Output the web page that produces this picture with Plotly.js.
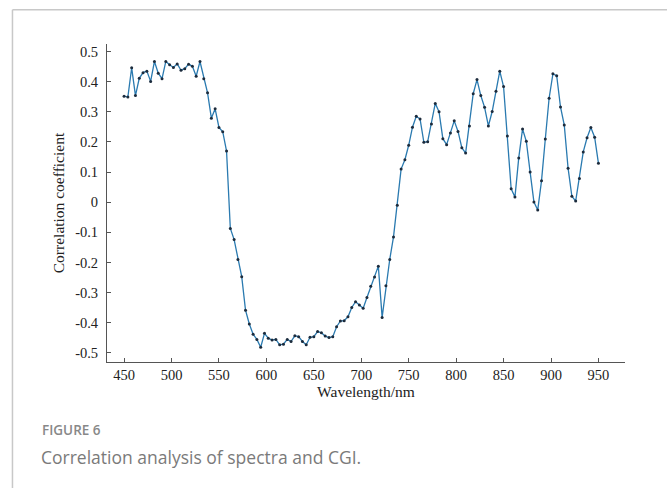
<!DOCTYPE html>
<html>
<head>
<meta charset="utf-8">
<script src="https://cdn.plot.ly/plotly-3.0.1.min.js"></script>
<style>
html,body{margin:0;padding:0;background:#fff;}
#chart{width:667px;height:488px;}
</style>
</head>
<body>
<div id="chart"></div>
<script>
const wavelength = [450,454,458,462,466,470,474,478,482,486,490,494,498,502,506,510,514,518,522,526,530,534,538,542,546,550,554,558,562,566,570,574,578,582,586,590,594,598,602,606,610,614,618,622,626,630,634,638,642,646,650,654,658,662,666,670,674,678,682,686,690,694,698,702,706,710,714,718,722,726,730,734,738,742,746,750,754,758,762,766,770,774,778,782,786,790,794,798,802,806,810,814,818,822,826,830,834,838,842,846,850,854,858,862,866,870,874,878,882,886,890,894,898,902,906,910,914,918,922,926,930,934,938,942,946,950];
const correlation = [0.352,0.349,0.446,0.354,0.411,0.430,0.435,0.401,0.467,0.428,0.410,0.467,0.456,0.447,0.459,0.438,0.443,0.458,0.451,0.418,0.467,0.410,0.363,0.279,0.310,0.248,0.234,0.170,-0.087,-0.124,-0.190,-0.247,-0.358,-0.404,-0.438,-0.455,-0.481,-0.435,-0.451,-0.457,-0.455,-0.473,-0.471,-0.455,-0.462,-0.443,-0.446,-0.462,-0.473,-0.448,-0.446,-0.429,-0.433,-0.444,-0.449,-0.446,-0.413,-0.394,-0.393,-0.380,-0.349,-0.330,-0.341,-0.352,-0.316,-0.279,-0.248,-0.212,-0.382,-0.277,-0.190,-0.115,-0.010,0.110,0.141,0.189,0.249,0.285,0.276,0.199,0.201,0.260,0.328,0.300,0.211,0.191,0.230,0.270,0.235,0.181,0.163,0.253,0.360,0.407,0.354,0.315,0.253,0.301,0.368,0.435,0.384,0.220,0.045,0.017,0.147,0.243,0.202,0.100,0.001,-0.026,0.071,0.210,0.345,0.426,0.420,0.316,0.256,0.113,0.020,0.004,0.079,0.167,0.214,0.248,0.216,0.129];
const xTicks = [450,500,550,600,650,700,750,800,850,900,950];
const yTicks = [0.5,0.4,0.3,0.2,0.1,0,-0.1,-0.2,-0.3,-0.4,-0.5];
const yTickText = ["0.5","0.4","0.3","0.2","0.1","0","-0.1","-0.2","-0.3","-0.4","-0.5"];

const serif = "Liberation Serif, Times New Roman, serif";
const trace = {
  x: wavelength, y: correlation, type: 'scatter', mode: 'lines+markers',
  line: {color: '#2a7ab0', width: 1.3},
  marker: {color: '#1c2b3c', size: 3},
  hoverinfo: 'x+y'
};
const layout = {
  width: 667, height: 488,
  margin: {l: 107, r: 42, t: 44, b: 126},
  paper_bgcolor: '#fff', plot_bgcolor: '#fff',
  showlegend: false,
  xaxis: {
    range: [432, 978], tickvals: xTicks, ticktext: xTicks.map(String),
    ticks: 'inside', ticklen: 4, tickcolor: '#555', tickwidth: 1,
    showline: true, linecolor: '#555', linewidth: 1, mirror: false,
    showgrid: false, zeroline: false,
    tickfont: {family: serif, size: 14.5, color: '#222'},
    title: {text: 'Wavelength/nm', font: {family: serif, size: 15.5, color: '#222'}, standoff: 3}
  },
  yaxis: {
    range: [-0.53, 0.525], tickvals: yTicks, ticktext: yTickText,
    ticks: 'inside', ticklen: 4, tickcolor: '#555', tickwidth: 1,
    showline: true, linecolor: '#555', linewidth: 1, mirror: false,
    showgrid: false, zeroline: false, ticklabelstandoff: 5,
    tickfont: {family: serif, size: 14.5, color: '#222'},
    title: {text: 'Correlation coefficient', font: {family: serif, size: 15.5, color: '#222'}, standoff: 6}
  },
  shapes: [
    {type: 'line', xref: 'paper', yref: 'paper', x0: -0.1825, x1: 1.1, y0: 1.1076, y1: 1.1076, line: {color: '#c8c8c8', width: 1.5}},
    {type: 'line', xref: 'paper', yref: 'paper', x0: -0.1825, x1: -0.1825, y0: 1.1076, y1: -0.5, line: {color: '#c8c8c8', width: 1.5}}
  ],
  annotations: [
    {xref: 'paper', yref: 'paper', x: -0.1293, y: -0.2138, xanchor: 'left', yanchor: 'middle', showarrow: false,
     text: 'FIGURE 6', font: {family: 'Open Sans, Noto Sans, sans-serif', size: 13.5, color: '#888', weight: 600}},
    {xref: 'paper', yref: 'paper', x: -0.1313, y: -0.2987, xanchor: 'left', yanchor: 'middle', showarrow: false,
     text: 'Correlation analysis of spectra and CGI.', font: {family: 'Open Sans, Noto Sans, sans-serif', size: 17.5, color: '#7a7a7a'}}
  ]
};
Plotly.newPlot('chart', [trace], layout, {displayModeBar: false, staticPlot: true});
</script>
</body>
</html>
